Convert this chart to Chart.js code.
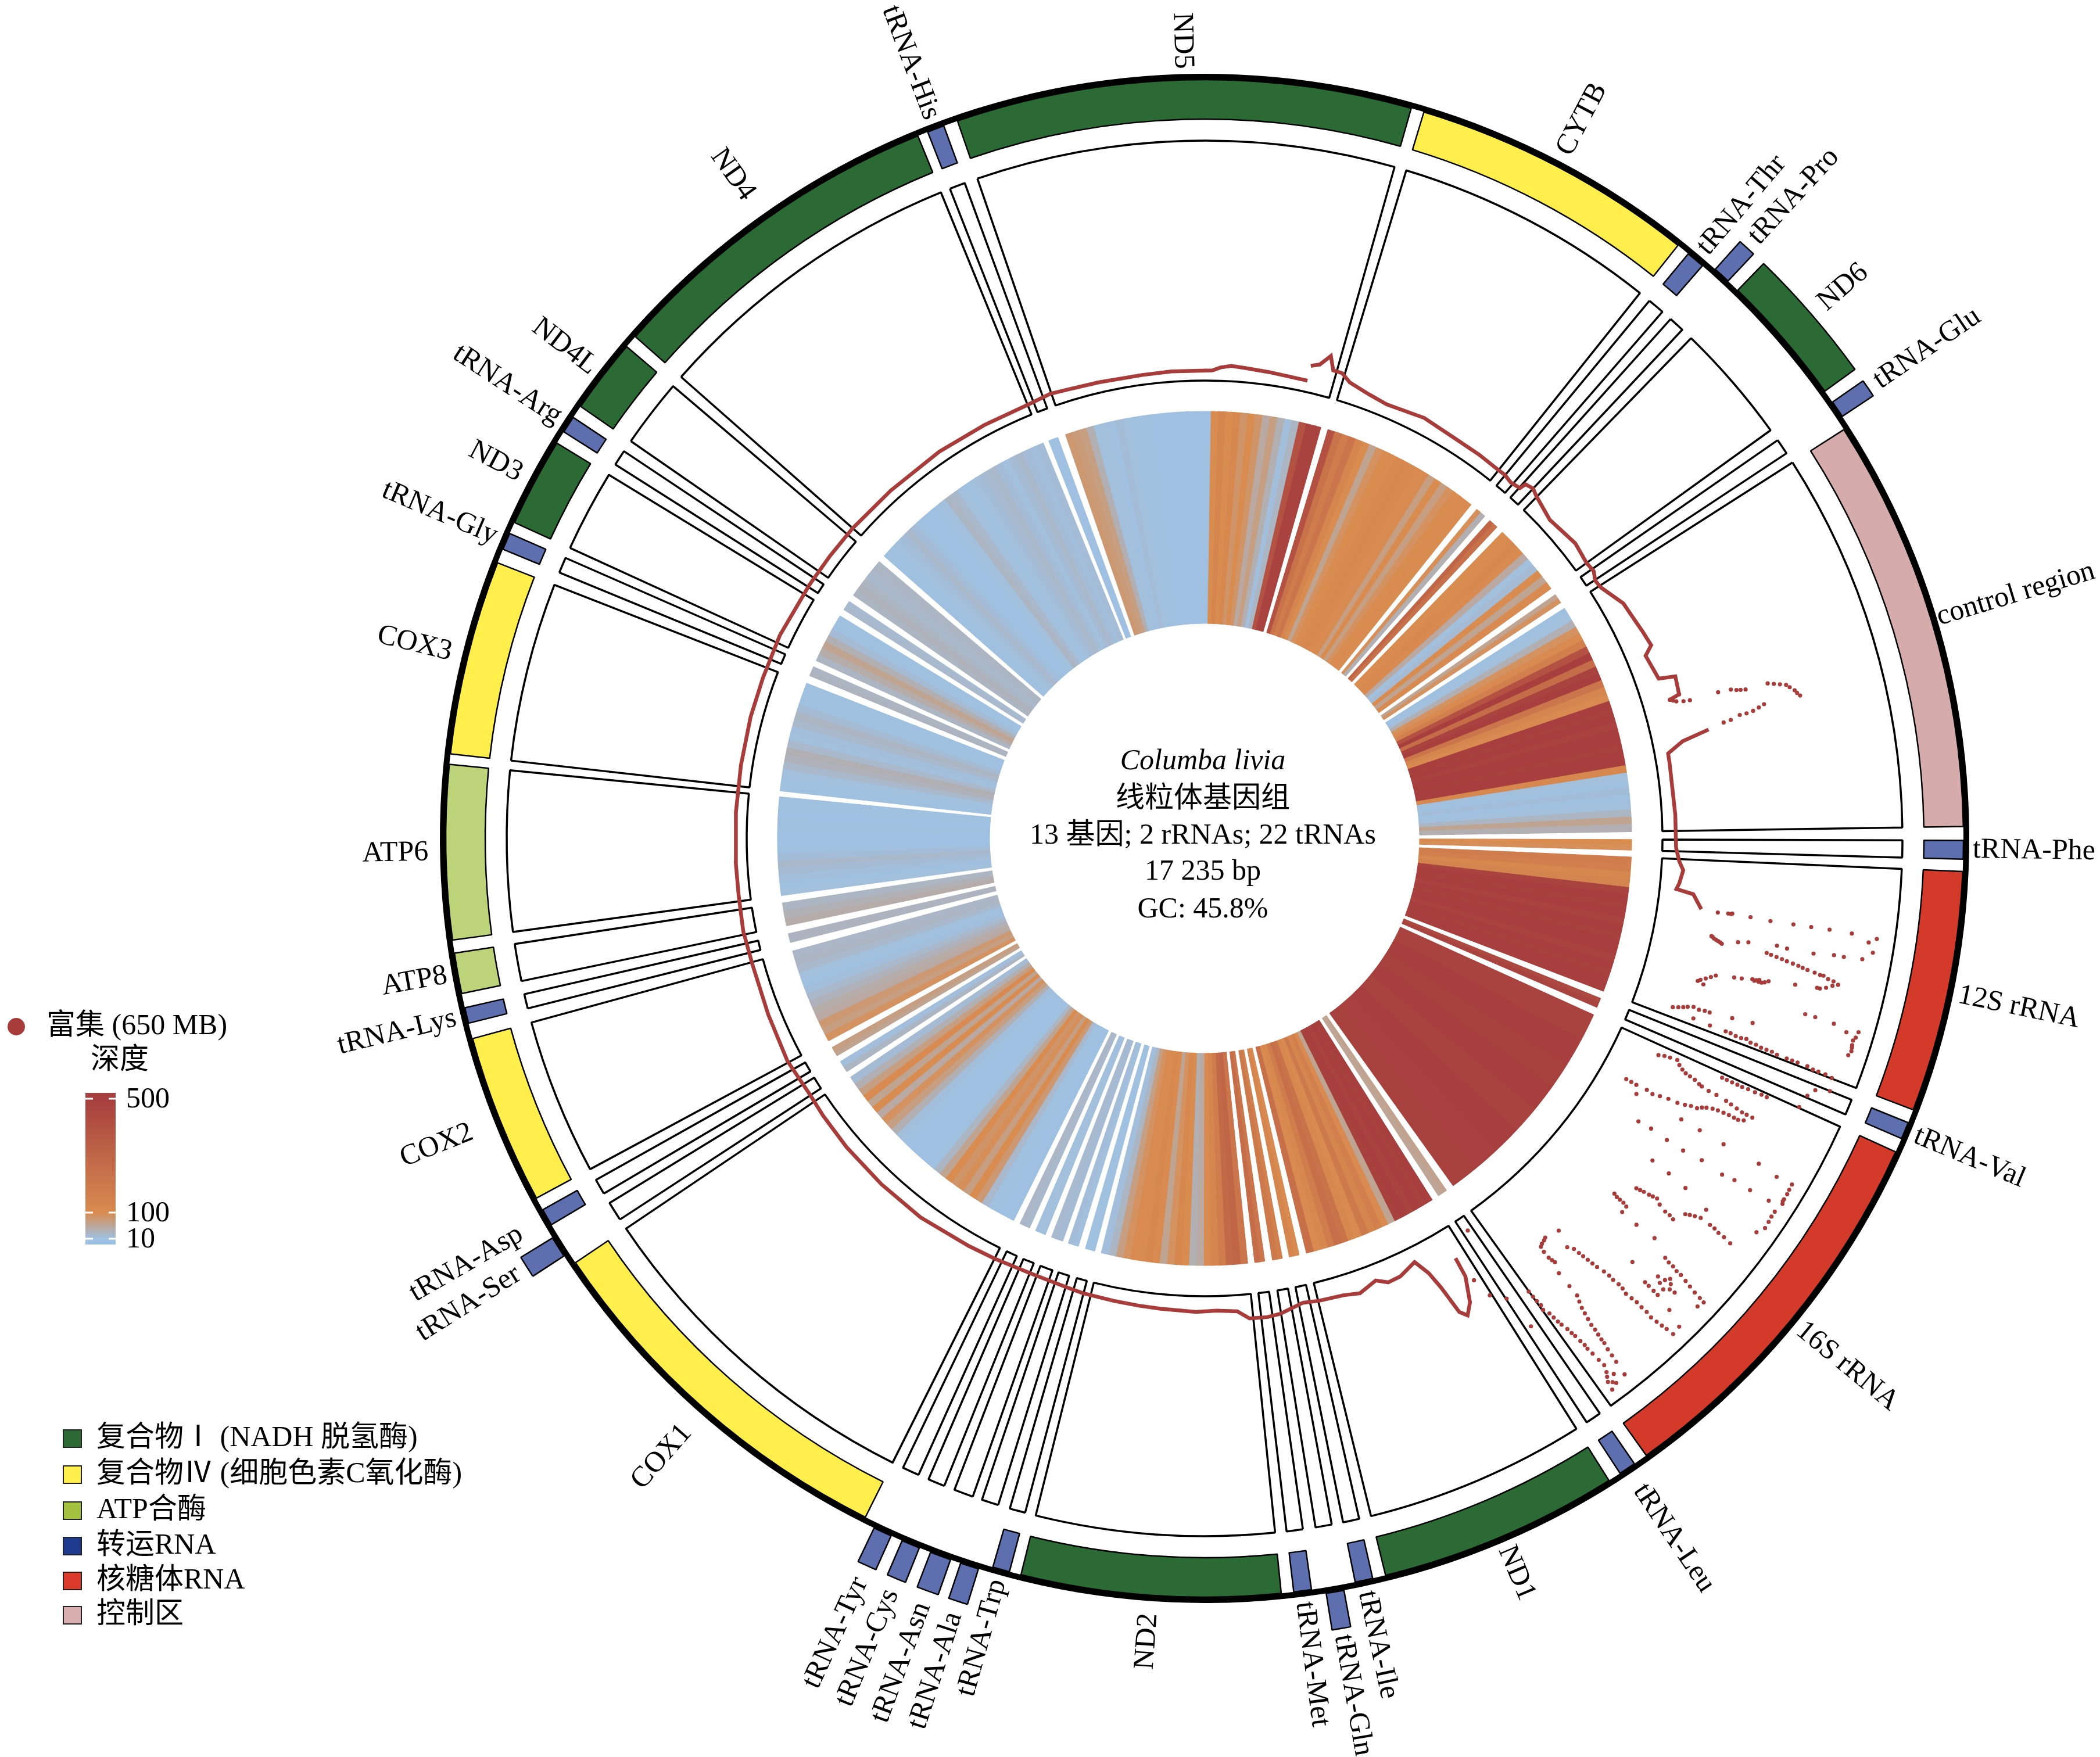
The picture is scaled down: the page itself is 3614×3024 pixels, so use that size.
<!DOCTYPE html>
<html><head><meta charset="utf-8">
<style>html,body{margin:0;padding:0;background:#fff}canvas{position:absolute;left:0;top:0}</style>
<script src="https://cdn.jsdelivr.net/npm/chart.js@4"></script>
</head><body>
<canvas id="rings" width="3614" height="3024"></canvas>
<canvas id="depth" width="3614" height="3024"></canvas>
<script>
const geneNames=['tRNA-Phe','12S rRNA','tRNA-Val','16S rRNA','tRNA-Leu','ND1','tRNA-Ile','tRNA-Gln','tRNA-Met','ND2','tRNA-Trp','tRNA-Ala','tRNA-Asn','tRNA-Cys','tRNA-Tyr','COX1','tRNA-Ser','tRNA-Asp','COX2','tRNA-Lys','ATP8','ATP6','COX3','tRNA-Gly','ND3','tRNA-Arg','ND4L','ND4','tRNA-His','ND5','CYTB','tRNA-Thr','tRNA-Pro','ND6','tRNA-Glu','control region'];
const geneStart=[90.15,92.5,112,114.4,145.5,147.8,167.2,169.5,171.9,174.2,194.9,197.2,199.4,201.9,204.2,206.55,236.9,239.4,241.7,255.9,258.2,262.3,276.4,292.4,294.6,302.4,304.7,311.4,338.6,341,376.8,399.6,401.9,404.2,415.2,417.4];
const geneEnd=[91.57,110.96,113.3,144.4,146.8,166.2,168.55,170.85,173.25,194,196.2,198.6,201,203.3,205.6,236,238.5,240.7,254.7,257.1,261.3,275.6,291.3,293.7,301.4,303.7,310.4,337.8,339.9,375.8,398.6,401,403.2,414.2,416.5,449.1];
const geneGroup=['t','r','t','r','t','c1','t','t','t','c1','t','t','t','t','t','c4','t','t','c4','t','a','a','c4','t','c1','t','c1','c1','t','c1','c4','t','t','c1','t','k'];
const geneOuterRing=[0,0,0,0,0,0,0,1,0,0,0,1,1,1,1,0,1,0,0,0,0,0,0,0,0,0,0,0,0,0,0,0,1,1,1,0];
const geneHeat=[
[100,95],
[180,160,120,140,480,500,490,500,480,500,490,500,500,480,500,490,500,500],
[450,480],
[480,500,490,500,480,500,495,490],
[62,58],
[500,490,500,480,500,490,60,110,170,130,200,110,120,230,250,180,120,110,250],
[110,130],[170,200],[220,260],
[220,300,280,180,130,110,50,40,100,120,90,60,110,120,105,110,90,70,30,15],
[12,12],[14,16],[20,22],[14,14],[25,28],
[11,11,12,12,25,80,100,70,95,85,100,60,30,12,11,11,11,11,12,15,40,70,90,50,100,60,110,70,40,20],
[30,15],[60,70],
[90,70,80,50,45,35,25,15,12,14,25,30,28],
[32,32],[45,38,30],
[14,12,15,20,25,16,12,10,10,12,12,11,12,12],
[12,12,14,25,35,40,25,14,15,25,30,20,12,12,12],
[32,30],[30,45,60,40,20,12,12],[25,22],[30,35,30,25,28,30],
[12,12,14,18,25,18,12,11,11,12,14,30,25,14,12,14,18,22,25,18,14,20,25,18,15,18],
[11,11],
[80,75,70,40,14,14,13,18,14,12,12,12,11,11,11,11,11,11,11,11,100,130,100,120,85,100,85,50,70,40,15,30,400,480,480],
[400,230,180,220,130,100,60,90,100,110,115,120,115,110,105,70,100,70,90,100,110,100],
[95,40],[300,240],
[100,110,120,110,50,14,20,100,60,110],
[60,90],
[12,14,40,90,110,160,400,500,260,480,500,220,130,110,500,490,500,480,500,500,490,500,500,120,14,12,16,12,14,30,60,40]
];
const lineDeg=[149.1,149.2,150.2,151.1,151.7,152.2,152.7,153.6,155.9,157.5,158.8,161.1,163,166,168,170.9,172.5,174.6,176,178.5,181,185.3,188,191,194.9,197,201.6,206.5,210,216.8,223,229.2,234,237,241.9,248,254.4,258.6,263,267,273.2,279,285,290,295.6,302.8,307,311.4,318,325.6,332,337.9,340.9,343.2,347,352.4,356,361,362,363.3,365,367.9,372.7,null,372.7,373.7,374.7,375.4,376.5,377.7,380.3,382.8,387.6,392.4,395.6,398.5,399.6,400.7,402,402.2,403.2,404.1,407.3,409.7,411.5,414.2,415.5,416.6,417.7,420.7,422.7,424.6,426.6,427.5,430.6,431,433.1,433.4];
const lineDepth=[56,92,134.5,152,140,88,56,28,40,41,30,41.5,36,34,31,42.5,45,44,30,27,29,27,26,25,24,22,20,22,24,28.6,28,27,25,23,27,23,21,23,21,21,21,21,22,22,23.6,21.5,21,21,20,21,20,20,24,21.6,20,19,20,20,25.5,29,27,24.6,22,null,48,54,73,50,49.6,38,29.6,24.5,31,26.5,26.6,25.5,26,22.6,25.7,37,40.6,35,23,26.5,30,25,27,20,22,41,44,48,52,36,43,71.4,68,50];
const tailDeg=[437.8,438.5,439.6,441,447.1,451.1,452.7,453.8,455.4,456.1,456.5,458.1];
const tailDepth=[102,54,25.5,25,25.5,26,32,40,35,31,61,78];
const dotDeg=[98.2,98.1,98.2,98.3,98.3,98.3,98.3,98.35,98.5,98.9,99.7,100.4,100.9,101.5,101,100.8,100.6,100.7,100.7,100.5,100.5,101.5,101.9,102.3,102.5,103,103.7,103.9,104.2,104.4,104.7,105,106.1,106.3,104.5,109.8,109,109,108.8,108.6,106.3,106.3,106.4,106.5,106.8,107.7,108.6,110.2,110.3,110.3,110.3,110.6,110.7,110.7,110.9,113.1,112.4,112,115.5,115.1,116,116.5,116.7,117,117,117.8,117.9,118.7,119.2,119.7,119.7,119.7,120.6,114.8,114.8,114.7,114.3,123.1,123,120.5,120.5,123.1,123.1,120.5,122.9,120.4,125.7,125.8,126,123,122.8,120.6,122.8,122.7,122.1,120.5,123.2,124.8,125.5,130.9,131.1,129,128.5,129.1,128,126.5,127.4,127.6,131.8,131.8,131.6,134.7,132.3,132.5,132.9,133.5,135.2,135.2,135.4,135.8,136.6,136.9,137,137.2,139.5,140.5,137.9,138.4,137.9,137.3,140.4,140.8,140.8,140.8,141.2,141.5,141.6,141.8,141.9,143.5,142.8,143.1,143.3,143.7,144.3,144.4,146.2,146.7,148,148.6,133.8,146.1,76.9,76.5,76.5,75.2,74.6,74.6,74.2,74.1,74.1,73.4,73.1,
98.15,98.15,100.95,101.1,101.2,101.3,101.4,101.6,101.7,101.8,102,102.1,102.2,102.4,102.5,102.7,102.8,103.2,103.5,103.7,105.3,105.6,105.9,104.3,104.4,104.5,104.6,104.5,104.4,109.6,109.4,109.2,109.1,109,110.3,110.4,110.4,110.5,110.5,110.6,110.6,110.7,110.7,110.7,110.8,110.8,110.8,107,107.3,107.9,108.2,
115.3,115.2,115.5,115.8,116.1,116.2,116.4,116.6,116.6,116.8,116.9,117,117.6,117.8,117.8,117.85,118,118.2,118.4,118.8,119,119.3,119.5,119.6,119.7,114.8,114.8,114.8,114.75,114.75,114.7,131,131,131,128.9,128.8,128.7,128.6,128.8,129,129,127.8,127.6,127.4,127.4,127.5,127.5,122.3,121.9,121.4,121,123.7,124.2,138,137.8,137.7,137.6,137.5,137.2,137.2,137.1,137.1,141,141.3,141.4,141.5,141.55,141.6,141.7,141.75,143,143.2,143.4,143.1,142.6,142.9,144.35,144.3,144.2,144,143.9,143.8,143.5,143.4,143.2,143.1,143,142.9,137.1,137,136.95,137,136.8,136.7,135.2,135.2,134,134.3,134.5,134.1,133.7,133.4,134,132.4,132.4,132.5,132.6,132.7,132.8,132.85,139.8,140.2,140.6,140.6,140.5,75.5,75.9,76.2,74.8,75,74.4,74.5,73.8,74,73.6,77.4,77.3,77,77,76.7];
const dotDepth=[107,132,164,199,239,270,302,341,385,372,382,366,103,123,150,167.5,217,235,281.5,316.7,334,202,239,277,306,334,305,262,216,188,157,125.5,98,109,199.6,71,104.6,134,174,210,292,310,344,389,369,385,384,111,142,171,209,248,286,324,370.6,343,352,376,80,113,136,171,219.6,253,273,253,214.5,181,147,102,70,50,78,196,234,280,338,106,131,167,204,164.6,198,251.6,234,321,164,200,238,277,300,359,332,369,390,388.5,388,390,382,148,178,171,210,254,265,289,310,357,179,212,250.6,251,287,327,388,385,291,322,354.6,387,389,354,306,282.6,117.6,125,124,155,176,228.6,161,180,208.7,229.6,251.4,284.6,323,361,387,395,353,313,282.6,253,213.6,173.5,225,162,141.5,105,313,27,184,205,269,250,220,180.5,156,133.6,83,50,68,
125,130,105,108,112,116,120,210,220,230,250,260,268,290,300,315,325,325,315,300,118,110,102,200,195,192,170,205,210,80,88,95,115,125,180,190,200,218,228,238,258,268,296,306,335,345,358,387,384,386,387,
90,100,120,128,145,155,165,185,200,230,242,262,262,245,235,225,205,195,188,170,160,130,115,90,60,205,215,225,245,258,270,155,162,170,178,185,195,202,220,235,245,272,280,290,320,330,342,392,390,390,389,388,389,165,185,195,205,215,240,250,262,272,240,262,273,295,305,315,335,348,365,372,380,385,375,390,185,195,205,225,235,245,265,275,295,305,325,340,295,318,330,342,365,375,300,312,300,310,322,330,325,318,340,297,307,317,340,352,365,378,120,122,135,148,155,255,262,265,230,240,165,172,60,72,55,130,143,160,172,195];
const centerLines=['Columba livia','线粒体基因组','13 基因; 2 rRNAs; 22 tRNAs','17 235 bp','GC: 45.8%'];
const legendLabels=['复合物Ⅰ (NADH 脱氢酶)','复合物Ⅳ (细胞色素C氧化酶)','ATP合酶','转运RNA','核糖体RNA','控制区'];
const legendColors=['#2c6a35','#ffee4c','#a3c03f','#1e3a8f','#dc3a2a','#d8aeae'];
const depthTicks=[500,100,10];

const CX=2073,CY=1443;
const FONT='"Liberation Serif","Noto Sans CJK SC",serif';
const groupColor={c1:'#2c6a35',c4:'#ffee4c',a:'#bcd37a',t:'#5d6fae',r:'#d33a2a',k:'#d6abab'};
const labelNudge={'ND4':28,'COX2':33,'COX1':26,'tRNA-Asp':33,'ATP6':11,'COX3':10,'ND3':8,'ND2':12,'tRNA-Gln':-6,'tRNA-Leu':18,'tRNA-Tyr':8,'tRNA-Cys':5,'tRNA-Asn':6,'tRNA-Ala':4,'CYTB':6,'ND6':6,'control region':-8,'tRNA-Phe':-3};
const ROT=89.6,CLEAR='rgba(0,0,0,0)';
function mix(a,b,t){return a.map((v,i)=>Math.round(v+(b[i]-v)*t));}
function heatColor(v){
  const lo=[159,193,227],mid=[217,140,80],hi=[166,63,62];
  const c=v<=100?mix(lo,mid,Math.max(0,(v-10)/90)):mix(mid,hi,Math.min(1,(v-100)/400));
  return `rgb(${c[0]},${c[1]},${c[2]})`;
}
function ring(weight,slicesFor){
  const data=[],bg=[],bc=[],bw=[];let pos=ROT;
  const push=(w,c,bcol,b)=>{data.push(w);bg.push(c);bc.push(bcol);bw.push(b);};
  geneNames.forEach((_,i)=>{
    const s=slicesFor(i);
    if(!s)return;
    push(geneStart[i]-pos,CLEAR,CLEAR,0);
    s.forEach(x=>push(x.w,x.c,x.bc,x.b));
    pos=geneEnd[i];
  });
  push(ROT+360-pos,CLEAR,CLEAR,0);
  return {data,backgroundColor:bg,borderColor:bc,borderWidth:bw,weight,hoverOffset:0};
}
const span=i=>geneEnd[i]-geneStart[i];
const datasets=[
  ring(64,i=>geneOuterRing[i]?[{w:span(i),c:groupColor[geneGroup[i]],bc:'#000',b:2.5}]:null),
  {data:[1],backgroundColor:['#000'],borderWidth:0,weight:10},
  ring(68,i=>geneOuterRing[i]?null:[{w:span(i),c:groupColor[geneGroup[i]],bc:'#000',b:2.5}]),
  {data:[1],backgroundColor:[CLEAR],borderWidth:0,weight:37},
  ring(413,i=>[{w:span(i),c:'#fff',bc:'#000',b:3.5}]),
  {data:[1],backgroundColor:[CLEAR],borderWidth:0,weight:53},
  ring(365,i=>geneHeat[i].map(v=>({w:span(i)/geneHeat[i].length,c:heatColor(v),bc:heatColor(v),b:1.2})))
];
const labelPlugin={id:'labels',afterDraw(c){
  const g=c.ctx;g.save();g.fillStyle='#000';
  g.font='50px '+FONT;g.textBaseline='middle';
  geneNames.forEach((n,i)=>{
    let a=((geneStart[i]+geneEnd[i])/2)%360;
    const r=(geneOuterRing[i]?1397:1325)+(labelNudge[n]||0);
    const t=a*Math.PI/180,x=CX+r*Math.sin(t),y=CY-r*Math.cos(t);
    const right=a<180;
    g.save();g.translate(x,y);g.rotate((right?a-90:a-270)*Math.PI/180);
    g.textAlign=right?'left':'right';g.fillText(n,0,0);g.restore();
  });
  g.textAlign='center';
  const ys=[1311,1376,1439,1501,1566];
  centerLines.forEach((s,i)=>{g.font=(i==0?'italic ':'')+'50px '+FONT;g.fillText(s,2070,ys[i]);});
  g.textAlign='left';
  const ly=[2476,2538,2600,2661,2721,2780];
  legendLabels.forEach((s,i)=>{
    g.fillStyle=legendColors[i];g.fillRect(109,ly[i]-15,31,30);
    g.strokeStyle='#222';g.lineWidth=2;g.strokeRect(109,ly[i]-15,31,30);
    g.fillStyle='#000';g.font='50px '+FONT;g.fillText(s,166,ly[i]);
  });
  g.fillStyle='#a83c3a';g.beginPath();g.arc(28,1767,15,0,7);g.fill();
  g.fillStyle='#000';g.fillText('富集 (650 MB)',80,1767);
  g.fillText('深度',156,1826);
  const gr=g.createLinearGradient(0,1890,0,2132);
  gr.addColorStop(0,heatColor(500));gr.addColorStop(197/242,heatColor(100));gr.addColorStop(1,heatColor(10));
  g.fillStyle=gr;g.fillRect(147,1881,52,261);
  const tickY={500:1891,100:2087,10:2132};
  depthTicks.forEach(v=>{
    g.fillStyle='#fff';g.fillRect(147,tickY[v]-1.5,13,3);g.fillRect(187,tickY[v]-1.5,12,3);
    g.fillStyle='#000';g.fillText(String(v),217,tickY[v]+2);
  });
  g.restore();
}};
new Chart(document.getElementById('rings'),{
  type:'doughnut',
  data:{datasets},
  options:{responsive:false,animation:false,devicePixelRatio:1,rotation:ROT,circumference:360,radius:1380,cutout:(370/1380*100)+'%',
    layout:{padding:{left:2*CX-3614,right:0,top:0,bottom:3024-2*CY}},
    plugins:{legend:{display:false},tooltip:{enabled:false}},events:[]},
  plugins:[labelPlugin]
});
const polar=(deg,depth)=>{
  if(deg===null)return {x:NaN,y:NaN};
  const t=deg*Math.PI/180,r=788+depth;return {x:r*Math.sin(t),y:r*Math.cos(t)};
};
const RED='#a83c3a';
const lineSet=(d,v)=>({type:'scatter',data:d.map((a,i)=>polar(a,v[i])),showLine:true,borderColor:RED,backgroundColor:RED,borderWidth:6.5,pointRadius:0,tension:0,spanGaps:false});
new Chart(document.getElementById('depth'),{
  type:'scatter',
  data:{datasets:[lineSet(lineDeg,lineDepth),lineSet(tailDeg,tailDepth),
    {data:dotDeg.map((a,i)=>polar(a,dotDepth[i])),backgroundColor:RED,borderWidth:0,pointRadius:3.6}]},
  options:{responsive:false,animation:false,devicePixelRatio:1,
    scales:{x:{type:'linear',display:false,min:-CX,max:3614-CX},y:{type:'linear',display:false,min:CY-3024,max:CY}},
    plugins:{legend:{display:false},tooltip:{enabled:false}},events:[]}
});
</script>
</body></html>
